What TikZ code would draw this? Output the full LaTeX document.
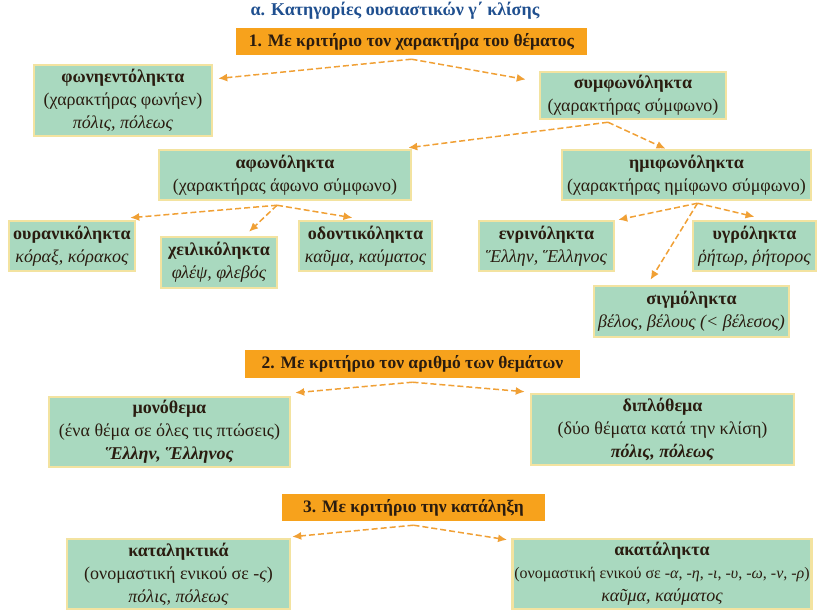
\documentclass[tikz,border=0pt]{standalone}
\usepackage{fontspec}
\setmainfont{Liberation Serif}
\usetikzlibrary{arrows.meta, positioning}
\definecolor{ink}{HTML}{2A1C10}
\definecolor{titleblue}{HTML}{1F4F8F}
\definecolor{leafbg}{HTML}{A9D9BF}
\definecolor{leafedge}{HTML}{F3E3A0}
\definecolor{groupbg}{HTML}{F7A21C}
\definecolor{link}{HTML}{F0A035}
\tikzset{
  box/.style={
    inner sep=2pt,
    align=center,
    text=ink,
    font=\fontsize{18}{23}\selectfont
  },
  group/.style={box, fill=groupbg, font=\fontsize{17.5}{22}\selectfont\bfseries},
  leaf/.style={box, fill=leafbg, draw=leafedge, line width=2.5pt},
  arrow/.style={-{Latex[length=9pt, width=8pt]}, dash pattern=on 6pt off 3pt,
    line width=1.5pt, draw=link}
}

\begin{document}
\begin{tikzpicture}[x=1pt, y=-1pt]
\useasboundingbox (0,0) rectangle (823,615);

\node[font=\fontsize{18}{20}\selectfont\bfseries, text=titleblue] (title) at (395,11)
  {α. Κατηγορίες ουσιαστικών γ΄ κλίσης};

\node[group, minimum width=351pt, minimum height=27pt] (crit1) at (411.5,41.5)
  {1. Με κριτήριο τον χαρακτήρα του θέματος};

\node[leaf, minimum width=178pt, minimum height=71pt] (fon) at (123,100.5) {
  \textbf{φωνηεντόληκτα}\\
  (χαρακτήρας φωνήεν)\\
  \textit{πόλις, πόλεως}
};

\node[leaf, minimum width=186pt, minimum height=47pt] (sym) at (633,95.5) {
  \textbf{συμφωνόληκτα}\\
  (χαρακτήρας σύμφωνο)
};

\node[leaf, minimum width=252pt, minimum height=50pt] (afon) at (285,175) {
  \textbf{αφωνόληκτα}\\
  (χαρακτήρας άφωνο σύμφωνο)
};

\node[leaf, minimum width=249pt, minimum height=50pt] (imif) at (686.5,175) {
  \textbf{ημιφωνόληκτα}\\
  (χαρακτήρας ημίφωνο σύμφωνο)
};

\node[leaf, minimum width=126pt, minimum height=50pt] (oura) at (72,246) {
  \textbf{ουρανικόληκτα}\\
  \textit{κόραξ, κόρακος}
};

\node[leaf, minimum width=116pt, minimum height=51pt] (xeil) at (219,262.5) {
  \textbf{χειλικόληκτα}\\
  \textit{φλέψ, φλεβός}
};

\node[leaf, minimum width=133pt, minimum height=50pt] (odon) at (365.5,246) {
  \textbf{οδοντικόληκτα}\\
  \textit{καῦμα, καύματος}
};

\node[leaf, minimum width=135pt, minimum height=50pt] (enri) at (546.5,246) {
  \textbf{ενρινόληκτα}\\
  \textit{Ἕλλην, Ἕλληνος}
};

\node[leaf, minimum width=123pt, minimum height=50pt] (ygro) at (754.5,246) {
  \textbf{υγρόληκτα}\\
  \textit{ῥήτωρ, ῥήτορος}
};

\node[leaf, minimum width=195pt, minimum height=51pt] (sigm) at (691.5,311.5) {
  \textbf{σιγμόληκτα}\\
  \textit{βέλος, βέλους (< βέλεσος)}
};

\node[group, minimum width=335pt, minimum height=28pt] (crit2) at (412.5,364)
  {2. Με κριτήριο τον αριθμό των θεμάτων};

\node[leaf, minimum width=241pt, minimum height=70pt] (mono) at (169.5,432) {
  \textbf{μονόθεμα}\\
  (ένα θέμα σε όλες τις πτώσεις)\\
  \textbf{\textit{Ἕλλην, Ἕλληνος}}
};

\node[leaf, minimum width=263pt, minimum height=71pt] (dipl) at (662.5,429.5) {
  \textbf{διπλόθεμα}\\
  (δύο θέματα κατά την κλίση)\\
  \textbf{\textit{πόλις, πόλεως}}
};

\node[group, minimum width=263pt, minimum height=27pt] (crit3) at (413.5,507.5)
  {3. Με κριτήριο την κατάληξη};

\node[leaf, minimum width=223pt, minimum height=70pt] (katal) at (178.5,574) {
  \textbf{καταληκτικά}\\
  (ονομαστική ενικού σε -\textit{ς})\\
  \textit{πόλις, πόλεως}
};

\node[leaf, minimum width=298pt, minimum height=70pt] (akatal) at (662,574) {
  \textbf{ακατάληκτα}\\
  {\fontsize{16}{23}\selectfont (ονομαστική ενικού σε -\textit{α}, -\textit{η}, -\textit{ι}, -\textit{υ}, -\textit{ω}, -\textit{ν}, -\textit{ρ})}\\
  \textit{καῦμα, καύματος}
};

\coordinate (crit1fork) at ([yshift=-4pt]crit1.south);
\coordinate (symfork) at ([xshift=-25pt, yshift=-2pt]sym.south);
\coordinate (afonfork) at ([xshift=-8pt, yshift=-4pt]afon.south);
\coordinate (imiffork) at ([xshift=11pt, yshift=-2pt]imif.south);
\coordinate (crit2fork) at ([yshift=-4pt]crit2.south);
\coordinate (crit3fork) at ([yshift=-4pt]crit3.south);

\draw[arrow] (crit1fork) -- ([xshift=5pt, yshift=22pt]fon.east);
\draw[arrow] (crit1fork) -- ([xshift=-13pt, yshift=16pt]sym.west);
\draw[arrow] (symfork) -- ([xshift=-4pt, yshift=1pt]afon.north east);
\draw[arrow] (symfork) -- ([xshift=-21pt]imif.north);
\draw[arrow] (afonfork) -- ([xshift=-6pt, yshift=2pt]oura.north east);
\draw[arrow] (afonfork) -- ([xshift=30pt, yshift=4pt]xeil.north);
\draw[arrow] (afonfork) -- ([xshift=-13pt, yshift=2pt]odon.north);
\draw[arrow] (imiffork) -- ([xshift=3pt]enri.north east);
\draw[arrow] (imiffork) -- ([yshift=3pt]ygro.north);
\draw[arrow] (imiffork) -- ([xshift=-41pt, yshift=5pt]sigm.north);
\draw[arrow] (crit2fork) -- ([xshift=4pt, yshift=3pt]mono.north east);
\draw[arrow] (crit2fork) -- ([xshift=-5pt, yshift=1pt]dipl.north west);
\draw[arrow] (crit3fork) -- ([xshift=1pt, yshift=1pt]katal.north east);
\draw[arrow] (crit3fork) -- ([xshift=-4pt, yshift=-2pt]akatal.north west);

\end{tikzpicture}
\end{document}
